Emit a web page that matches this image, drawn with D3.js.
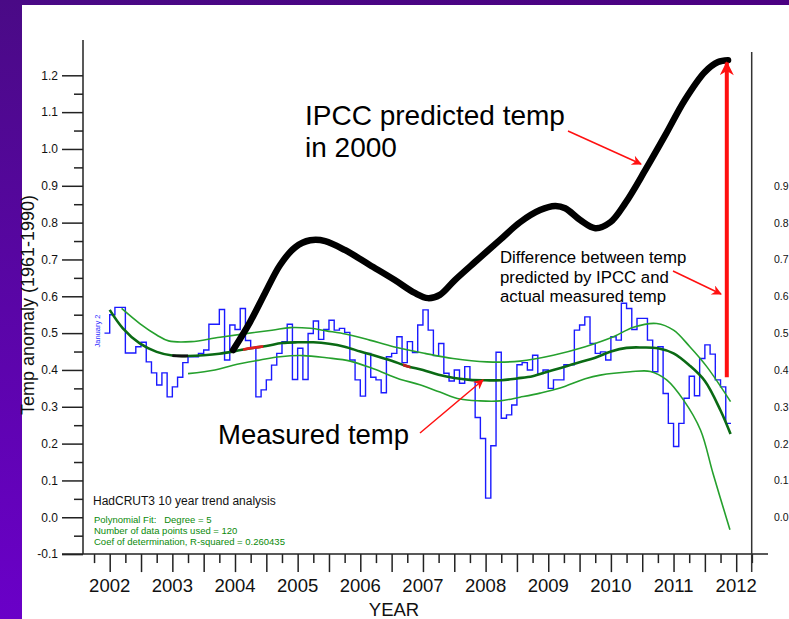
<!DOCTYPE html>
<html><head><meta charset="utf-8">
<script src="https://cdn.jsdelivr.net/npm/d3@7"></script>
<style>
body{margin:0;background:#fff;overflow:hidden}
svg{display:block}
text{font-family:"Liberation Sans",Arial,sans-serif}
</style>
</head><body>
<svg id="c" width="789" height="619"></svg>
<script>
// ---------------- DATA ----------------
// HadCRUT3 monthly anomalies, 120 months (each step spans one month)
const monthStart = 2001 + 11/12;
const monthly = [
 0.50,0.55,0.57,0.57,0.446,0.446,0.463,0.475,0.422,0.392,0.359,0.392,
 0.327,0.354,0.38,0.42,0.436,0.436,0.445,0.454,0.524,0.524,0.564,0.427,
 0.522,0.51,0.567,0.48,0.46,0.327,0.346,0.373,0.413,0.445,0.477,0.524,
 0.374,0.459,0.374,0.499,0.533,0.483,0.510,0.535,0.508,0.513,0.502,0.427,
 0.373,0.329,0.445,0.38,0.373,0.338,0.436,0.445,0.49,0.42,0.477,0.447,
 0.522,0.563,0.508,0.439,0.472,0.391,0.37,0.40,0.364,0.409,0.373,0.271,
 0.214,0.052,0.194,0.448,0.269,0.278,0.305,0.414,0.42,0.40,0.44,0.39,
 0.40,0.35,0.373,0.373,0.414,0.414,0.508,0.522,0.544,0.472,0.445,0.449,
 0.427,0.49,0.481,0.581,0.567,0.51,0.54,0.54,0.481,0.395,0.463,0.336,
 0.255,0.192,0.255,0.323,0.383,0.33,0.431,0.468,0.443,0.373,0.354,0.255
];
// polynomial trend (degree 5) and confidence band, [year, value]
const trendYears = [2002.0,2002.21,2002.48,2002.75,2003.0,2003.25,2003.5,2003.75,2004.0,2004.25,2004.5,2004.75,2005.0,2005.25,2005.5,2005.75,2006.0,2006.25,2006.5,2006.75,2007.0,2007.25,2007.5,2007.75,2008.0,2008.25,2008.5,2008.75,2009.0,2009.25,2009.5,2009.75,2010.0,2010.25,2010.5,2010.75,2011.0,2011.25,2011.5,2011.75,2011.91];
const trendVals  = [0.563,0.513,0.472,0.449,0.439,0.438,0.44,0.444,0.451,0.459,0.465,0.473,0.475,0.475,0.471,0.463,0.45,0.438,0.425,0.41,0.40,0.387,0.378,0.373,0.372,0.372,0.377,0.383,0.396,0.408,0.421,0.433,0.45,0.46,0.461,0.459,0.445,0.413,0.37,0.29,0.226];
// short stretches of the trend over-painted in another colour: [from, to, colour]
const trendMarks = [[2003.0,2003.25,"#111"],[2004.13,2004.45,"#e02020"],[2006.68,2006.8,"#c02020"]];
const upperYears = [2002.19,2002.48,2002.75,2002.94,2003.3,2003.76,2004.59,2004.88,2005.2,2005.46,2005.78,2006.15,2006.53,2007.03,2007.48,2008.02,2008.55,2009.08,2009.59,2010.04,2010.36,2010.73,2011.0,2011.26,2011.53,2011.91];
const upperVals  = [0.567,0.526,0.495,0.479,0.477,0.489,0.508,0.515,0.513,0.506,0.497,0.481,0.463,0.445,0.431,0.422,0.424,0.44,0.463,0.49,0.516,0.526,0.508,0.463,0.409,0.314];
const lowerYears = [2003.25,2003.68,2003.97,2004.4,2004.72,2005.09,2005.46,2005.84,2006.21,2006.63,2006.95,2007.27,2007.59,2007.91,2008.23,2008.55,2008.87,2009.19,2009.59,2009.83,2010.31,2010.63,2010.89,2011.16,2011.43,2011.63,2011.9];
const lowerVals  = [0.39,0.40,0.413,0.427,0.436,0.439,0.433,0.424,0.403,0.375,0.36,0.34,0.321,0.316,0.316,0.326,0.337,0.351,0.376,0.386,0.395,0.396,0.373,0.318,0.237,0.119,-0.034];
// hand-drawn "IPCC predicted temp" curve
const ipccYears = [2003.97,2004.24,2004.48,2004.72,2004.96,2005.2,2005.44,2005.76,2006.15,2006.55,2006.87,2007.08,2007.27,2007.51,2007.83,2008.23,2008.55,2008.87,2009.11,2009.27,2009.51,2009.75,2009.99,2010.23,2010.55,2010.87,2011.18,2011.5,2011.71,2011.87];
const ipccVals  = [0.454,0.53,0.609,0.685,0.733,0.752,0.75,0.725,0.685,0.644,0.609,0.595,0.604,0.644,0.693,0.753,0.801,0.834,0.845,0.839,0.807,0.785,0.801,0.853,0.943,1.038,1.133,1.209,1.236,1.241];
// difference arrow (year, from value, to value)
const diffArrow = {year: 2011.85, from: 0.38, to: 1.24};

const yTickVals = [-0.1,0.0,0.1,0.2,0.3,0.4,0.5,0.6,0.7,0.8,0.9,1.0,1.1,1.2];
const yTickLabels = ["-0.1","0.0","0.1","0.2","0.3","0.4","0.5","0.6","0.7","0.8","0.9","1.0","1.1","1.2"];
const rightLabels = ["0.0","0.1","0.2","0.3","0.4","0.5","0.6","0.7","0.8","0.9"];
const yearLabels = [2002,2003,2004,2005,2006,2007,2008,2009,2010,2011,2012];
const infoLines = ["Polynomial Fit:   Degree = 5","Number of data points used = 120","Coef of determination, R-squared = 0.260435"];
const diffText = ["Difference between temp","predicted by IPCC and","actual measured temp"];

// ---------------- DRAW ----------------
const svg = d3.select("#c");
const defs = svg.append("defs");
const g1 = defs.append("linearGradient").attr("id","pur").attr("x1",0).attr("y1",0).attr("x2",0).attr("y2",1);
g1.append("stop").attr("offset","0%").attr("stop-color","#4a0a86");
g1.append("stop").attr("offset","100%").attr("stop-color","#6a00c8");
const g2 = defs.append("linearGradient").attr("id","purTop").attr("x1",0).attr("y1",0).attr("x2",1).attr("y2",0);
g2.append("stop").attr("offset","0%").attr("stop-color","#4a0a86");
g2.append("stop").attr("offset","100%").attr("stop-color","#4b0082");
function arrowMarker(id, w, h){
  const m = defs.append("marker").attr("id",id).attr("viewBox","0 0 10 10")
    .attr("refX",9).attr("refY",5).attr("markerWidth",w).attr("markerHeight",h)
    .attr("markerUnits","userSpaceOnUse").attr("orient","auto");
  m.append("path").attr("d","M0,0 L10,5 L0,10 L3,5 Z").attr("fill","#ff1010");
}
arrowMarker("arr", 13, 10);
arrowMarker("arrBig", 16, 14);

svg.append("rect").attr("width",789).attr("height",619).attr("fill","#fff");
svg.append("rect").attr("x",0).attr("y",0).attr("width",789).attr("height",5).attr("fill","url(#purTop)");
svg.append("rect").attr("x",0).attr("y",0).attr("width",22).attr("height",619).attr("fill","url(#pur)");

const x = d3.scaleLinear().domain([2002, 2012]).range([109.7, 736.2]);
const y = d3.scaleLinear().domain([-0.1, 1.2]).range([554.1, 75.3]);

// Y axis
const yAxisG = svg.append("g").attr("transform","translate(83,0)")
  .call(d3.axisLeft(y).tickValues(yTickVals).tickSize(21).tickPadding(4)
        .tickFormat((d,i)=>yTickLabels[i]));
yAxisG.select(".domain").remove();
yAxisG.selectAll("line").attr("stroke","#222").attr("stroke-width",1.5);
yAxisG.selectAll("text").attr("font-size",12).attr("fill","#111").style("font-family","'Liberation Sans',Arial,sans-serif");
const yMinor = yTickVals.slice(0,-1).map(v=>v+0.05);
const yMinorG = svg.append("g").attr("transform","translate(83,0)")
  .call(d3.axisLeft(y).tickValues(yMinor).tickSize(9).tickFormat(""));
yMinorG.select(".domain").remove();
yMinorG.selectAll("line").attr("stroke","#222").attr("stroke-width",1.5);
svg.append("line").attr("x1",83).attr("x2",83).attr("y1",40).attr("y2",y(-0.1)).attr("stroke","#222").attr("stroke-width",1.5);

// X axis
const quarters = d3.range(0,43).map(i=>2001.75+i*0.25);
const xMajor = quarters.filter(q=>Math.abs(q*2-Math.round(q*2))<1e-6);
const xMinor = quarters.filter(q=>Math.abs(q*2-Math.round(q*2))>1e-6);
const xAxisG = svg.append("g").attr("transform",`translate(0,${y(-0.1)})`)
  .call(d3.axisBottom(x).tickValues(xMajor).tickSize(18).tickFormat(""));
xAxisG.select(".domain").remove();
const xMinorG = svg.append("g").attr("transform",`translate(0,${y(-0.1)})`)
  .call(d3.axisBottom(x).tickValues(xMinor).tickSize(9).tickFormat(""));
xMinorG.select(".domain").remove();
svg.selectAll(".tick line").attr("stroke","#222").attr("stroke-width",1.5);
svg.append("line").attr("x1",62).attr("x2",768).attr("y1",y(-0.1)).attr("y2",y(-0.1)).attr("stroke","#222").attr("stroke-width",1.5);
svg.append("g").selectAll("text").data(yearLabels).join("text")
  .attr("x",d=>x(d)).attr("y",592).attr("text-anchor","middle")
  .attr("font-size",18.5).attr("fill","#111").text(d=>d);
svg.append("text").attr("x",394).attr("y",616).attr("text-anchor","middle")
  .attr("font-size",18.5).attr("fill","#111").text("YEAR");

// right frame line and labels of a second axis at the edge
svg.append("line").attr("x1",751.7).attr("x2",751.7).attr("y1",52).attr("y2",572).attr("stroke","#333").attr("stroke-width",1.5);
svg.append("g").selectAll("text").data(rightLabels).join("text")
  .attr("x",774).attr("y",d=>y(+d)+4).attr("font-size",10.5).attr("fill","#111").text(d=>d);

// y label
svg.append("text").attr("transform","translate(34,305) rotate(-90)").attr("text-anchor","middle")
  .attr("font-size",18).attr("fill","#111").text("Temp anomaly (1961-1990)");
svg.append("text").attr("transform","translate(100,331) rotate(-90)").attr("text-anchor","middle")
  .attr("font-size",7.5).attr("fill","#2b2bff").text("January 2");

// monthly step line
const stepPts = monthly.map((v,i)=>[monthStart+i/12, v]);
stepPts.push([monthStart+monthly.length/12, monthly[monthly.length-1]]);
svg.append("path").attr("d", d3.line().x(d=>x(d[0])).y(d=>y(d[1])).curve(d3.curveStepAfter)(stepPts))
  .attr("fill","none").attr("stroke","#1a1aff").attr("stroke-width",1.4);

// trend and bands
const smooth = d3.line().x(d=>x(d[0])).y(d=>y(d[1])).curve(d3.curveCatmullRom);
const zip = (a,b)=>a.map((v,i)=>[v,b[i]]);
svg.append("path").attr("d",smooth(zip(upperYears,upperVals))).attr("fill","none").attr("stroke","#25a02d").attr("stroke-width",1.6);
svg.append("path").attr("d",smooth(zip(lowerYears,lowerVals))).attr("fill","none").attr("stroke","#25a02d").attr("stroke-width",1.6);
const trendPts = zip(trendYears,trendVals);
svg.append("path").attr("d",smooth(trendPts)).attr("fill","none").attr("stroke","#0a6a14").attr("stroke-width",2.6);
const clip = defs.selectAll("clipPath.tm").data(trendMarks).join("clipPath").attr("class","tm").attr("id",(d,i)=>"tm"+i);
clip.append("rect").attr("x",d=>x(d[0])).attr("width",d=>x(d[1])-x(d[0])).attr("y",0).attr("height",619);
svg.append("g").selectAll("path").data(trendMarks).join("path")
  .attr("d",smooth(trendPts)).attr("clip-path",(d,i)=>`url(#tm${i})`)
  .attr("fill","none").attr("stroke",d=>d[2]).attr("stroke-width",2.8);

// IPCC predicted curve
svg.append("path").attr("d",smooth(zip(ipccYears,ipccVals))).attr("fill","none")
  .attr("stroke","#000").attr("stroke-width",6.5).attr("stroke-linecap","round").attr("stroke-linejoin","round");

// annotations
svg.append("text").attr("x",305).attr("y",125).attr("font-size",28).attr("fill","#000").text("IPCC predicted temp");
svg.append("text").attr("x",305).attr("y",157).attr("font-size",28).attr("fill","#000").text("in 2000");
svg.append("line").attr("x1",568).attr("y1",131).attr("x2",641).attr("y2",164).attr("stroke","#ff1010").attr("stroke-width",1.5).attr("marker-end","url(#arr)");

svg.append("g").selectAll("text").data(diffText).join("text")
  .attr("x",500).attr("y",(d,i)=>263+i*19.5).attr("font-size",16.8).attr("fill","#000").text(d=>d);
svg.append("line").attr("x1",673).attr("y1",271).attr("x2",721).attr("y2",294).attr("stroke","#ff1010").attr("stroke-width",1.5).attr("marker-end","url(#arr)");
svg.append("line").attr("x1",x(diffArrow.year)).attr("x2",x(diffArrow.year))
  .attr("y1",y(diffArrow.from)).attr("y2",y(diffArrow.to)+2)
  .attr("stroke","#ff1010").attr("stroke-width",4).attr("marker-end","url(#arrBig)");

svg.append("text").attr("x",218).attr("y",444).attr("font-size",27.5).attr("fill","#000").text("Measured temp");
svg.append("line").attr("x1",420).attr("y1",433).attr("x2",483).attr("y2",380).attr("stroke","#ff1010").attr("stroke-width",1.5).attr("marker-end","url(#arr)");

svg.append("text").attr("x",93).attr("y",505).attr("font-size",12).attr("fill","#111").text("HadCRUT3 10 year trend analysis");
svg.append("g").selectAll("text").data(infoLines).join("text")
  .attr("x",94).attr("y",(d,i)=>523+i*10.8).attr("font-size",9.5).attr("fill","#0a8a0a")
  .style("white-space","pre").text(d=>d);
</script>
</body></html>
